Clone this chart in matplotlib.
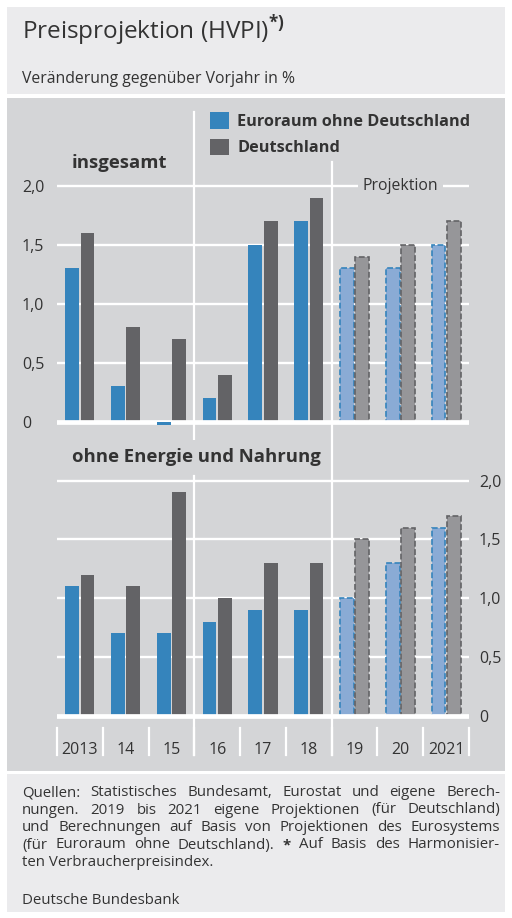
import numpy as np
import matplotlib
matplotlib.use('Agg')
from matplotlib import pyplot as plt
from matplotlib.patches import Rectangle, Patch

plt.rcParams['font.family'] = ['Open Sans', 'DejaVu Sans']
plt.rcParams['mathtext.fontset'] = 'custom'
plt.rcParams['mathtext.rm'] = 'Open Sans'
plt.rcParams['mathtext.bf'] = 'Open Sans:bold'

# Data (HVPI, Veränderung gegenüber Vorjahr in %)
years = ['2013', '14', '15', '16', '17', '18', '19', '20', '2021']
projection = [False, False, False, False, False, False, True, True, True]

total_euro_ex_de = [1.3, 0.3, -0.03, 0.2, 1.5, 1.7, 1.3, 1.3, 1.5]
total_de = [1.6, 0.8, 0.7, 0.4, 1.7, 1.9, 1.4, 1.5, 1.7]

core_euro_ex_de = [1.1, 0.7, 0.7, 0.8, 0.9, 0.9, 1.0, 1.3, 1.6]
core_de = [1.2, 1.1, 1.9, 1.0, 1.3, 1.3, 1.5, 1.6, 1.7]

y_ticks = [0, 0.5, 1.0, 1.5, 2.0]
y_tick_labels = ['0', '0,5', '1,0', '1,5', '2,0']

# Colours
header_bg = '#ebebed'
panel_bg = '#d4d5d7'
blue = '#3584bc'
grey = '#636366'
blue_proj = '#8aabd5'
grey_proj = '#969699'
text_col = '#333333'

W, H = 512, 918
fig = plt.figure(figsize=(W / 100, H / 100), dpi=100)
fig.patch.set_facecolor('white')


def fx(px):
    return px / W


def fy(px):
    return 1 - px / H


# background panels
fig.add_artist(Rectangle((fx(7), fy(94)), fx(498), 87 / H, transform=fig.transFigure,
                         facecolor=header_bg, edgecolor='none', zorder=0))
fig.add_artist(Rectangle((fx(7), fy(771)), fx(498), (771 - 98) / H, transform=fig.transFigure,
                         facecolor=panel_bg, edgecolor='none', zorder=0))
fig.add_artist(Rectangle((fx(7), fy(912)), fx(498), (912 - 774) / H, transform=fig.transFigure,
                         facecolor=header_bg, edgecolor='none', zorder=0))

# header
fig.text(fx(22), fy(40), r'Preisprojektion (HVPI)$^{\mathbf{*)}}$', fontsize=17.5,
         color=text_col, va='baseline')
fig.text(fx(22), fy(83), 'Veränderung gegenüber Vorjahr in %', fontsize=11.3,
         color=text_col, va='baseline')

x = np.arange(len(years))
proj = np.array(projection)
bw = 0.3
off = 0.168


def draw_bars(ax, euro, de):
    euro = np.array(euro)
    de = np.array(de)
    hist = ~proj
    pos_euro = np.where(euro > 0, euro, 0)
    ax.bar(x[hist] - off, pos_euro[hist], bw, color=blue, zorder=2)
    ax.bar(x[hist] + off, de[hist], bw, color=grey, zorder=2)
    ax.bar(x[proj] - off, euro[proj], bw, facecolor=blue_proj, edgecolor=blue,
           linewidth=1.2, linestyle=(0, (3.5, 1.5)), zorder=2)
    ax.bar(x[proj] + off, de[proj], bw, facecolor=grey_proj, edgecolor=grey,
           linewidth=1.2, linestyle=(0, (3.5, 1.5)), zorder=2)
    # gridlines and zero line
    for t in y_ticks[1:]:
        ax.axhline(t, color='white', linewidth=1.7, zorder=1)
    ax.axhline(0, color='white', linewidth=3.4, zorder=3)
    neg_euro = np.where(euro < 0, euro, 0)
    ax.bar(x - off, neg_euro, bw, color=blue, zorder=4)


def style_axes(ax):
    ax.set_facecolor('none')
    for s in ax.spines.values():
        s.set_visible(False)
    ax.set_xlim(-0.5, 8.5)
    ax.set_xticks([])
    ax.set_yticks(y_ticks)
    ax.set_yticklabels(y_tick_labels)
    ax.tick_params(axis='y', length=0, labelsize=11.5, labelcolor=text_col)


# top panel: insgesamt
ax1 = fig.add_axes([fx(57), fy(440), fx(469 - 57), (440 - 97) / H])
style_axes(ax1)
ax1.set_ylim(-0.1553, 2.755)
ax1.tick_params(axis='y', pad=25.2)
for lab in ax1.get_yticklabels():
    lab.set_horizontalalignment('left')
draw_bars(ax1, total_euro_ex_de, total_de)
ax1.axvline(2.5, ymin=0, ymax=(440 - 112) / 343, color='white', linewidth=1.6, zorder=1)
ax1.axvline(5.5, ymin=0, ymax=(440 - 162) / 343, color='white', linewidth=1.6, zorder=1)
ax1.text(7, 2.0, 'Projektion', ha='center', va='center', fontsize=11.3, color=text_col,
         zorder=5, bbox=dict(boxstyle='square,pad=0.28', facecolor=panel_bg, edgecolor='none'))
fig.text(fx(72), fy(163), 'insgesamt', fontsize=13.3, fontweight='bold', color=text_col,
         va='center')

handles = [Patch(facecolor=blue, edgecolor='none'), Patch(facecolor=grey, edgecolor='none')]
fig.legend(handles, ['Euroraum ohne Deutschland', 'Deutschland'], loc='upper left',
           bbox_to_anchor=(fx(210), fy(112.5)), frameon=False,
           prop={'weight': 'bold', 'size': 11.7}, handlelength=1.19, handleheight=1.19,
           handletextpad=0.5, labelspacing=0.52, borderpad=0, borderaxespad=0,
           labelcolor=text_col)

# bottom panel: ohne Energie und Nahrung
ax2 = fig.add_axes([fx(57), fy(757), fx(469 - 57), (757 - 440) / H])
style_axes(ax2)
ax2.set_ylim(-0.3515, 2.346)
ax2.yaxis.tick_right()
ax2.tick_params(axis='y', pad=7.2)
draw_bars(ax2, core_euro_ex_de, core_de)
ax2.axvline(2.5, ymin=(757 - 755) / 317, ymax=(757 - 476) / 317, color='white',
            linewidth=1.6, zorder=1)
ax2.axvline(5.5, ymin=(757 - 755) / 317, ymax=1, color='white', linewidth=1.6, zorder=1)
for b in np.arange(-0.5, 9, 1.0):
    ax2.axvline(b, ymin=(757 - 755) / 317, ymax=(757 - 728) / 317, color='white',
                linewidth=1.6, zorder=1, clip_on=False)
for xi, lab in zip(x, years):
    ax2.text(xi, (757 - 750) / 317, lab, transform=ax2.get_xaxis_transform(), ha='center',
             va='center', fontsize=11.5, color=text_col)
fig.text(fx(72), fy(457), 'ohne Energie und Nahrung', fontsize=13.3, fontweight='bold',
         color=text_col, va='center')

# footer, justified lines
renderer = fig.canvas.get_renderer()
foot_lines = [
    'Quellen: Statistisches Bundesamt, Eurostat und eigene Berech-',
    'nungen. 2019 bis 2021 eigene Projektionen (für Deutschland)',
    'und Berechnungen auf Basis von Projektionen des Eurosystems',
    '(für Euroraum ohne Deutschland). * Auf Basis des Harmonisier-',
]
foot_y = [793, 810, 827.5, 845]
foot_size = 10.8
for line, yy in zip(foot_lines, foot_y):
    words = line.split(' ')
    texts = [fig.text(0, fy(yy), w, fontsize=foot_size, color=text_col, va='center',
                      fontweight='bold' if w == '*' else 'normal') for w in words]
    widths = [t.get_window_extent(renderer).width for t in texts]
    gap = (500 - 22 - sum(widths)) / (len(words) - 1)
    xx = 22
    for t, w in zip(texts, widths):
        t.set_x(fx(xx))
        xx += w + gap
fig.text(fx(22), fy(862), 'ten Verbraucherpreisindex.', fontsize=foot_size, color=text_col,
         va='center')
fig.text(fx(22), fy(900), 'Deutsche Bundesbank', fontsize=foot_size, color=text_col,
         va='center')

fig.savefig('out.png', dpi=100)
